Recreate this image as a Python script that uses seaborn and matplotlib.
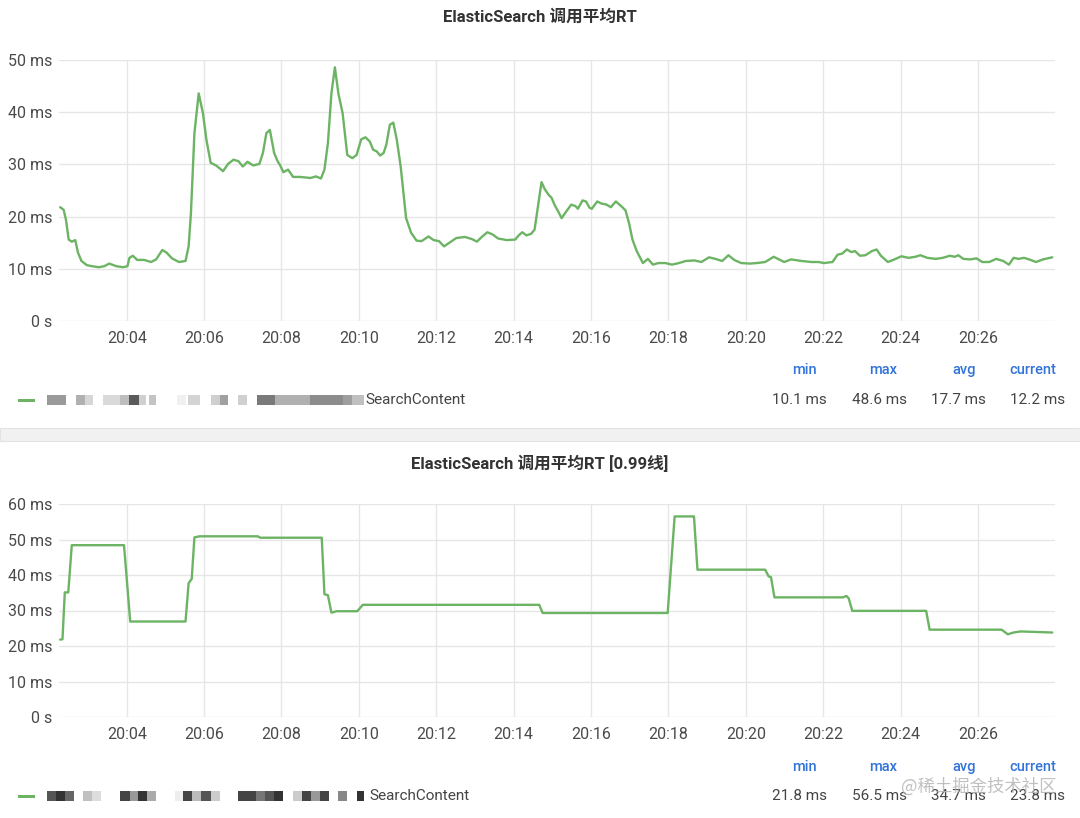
import matplotlib
matplotlib.use("Agg")
import matplotlib.pyplot as plt
from matplotlib.patches import Rectangle
from matplotlib.ticker import FuncFormatter
import seaborn as sns

sns.set_theme(style="white")
plt.rcParams['font.family'] = ['Roboto', 'Noto Sans CJK SC', 'DejaVu Sans']

# minutes after 20:00 -> average RT (ms)
avg_t = [2.28, 2.37, 2.43, 2.50, 2.58, 2.67, 2.74, 2.83, 2.97, 3.10, 3.28, 3.42, 3.55, 3.73, 3.91,
         4.02, 4.07, 4.16, 4.27, 4.45, 4.63, 4.76, 4.92, 5.03, 5.17, 5.35, 5.52, 5.60, 5.66, 5.75,
         5.86, 5.97, 6.06, 6.17, 6.31, 6.49, 6.62, 6.76, 6.89, 7.00, 7.12, 7.27, 7.43, 7.52, 7.61,
         7.70, 7.81, 7.90, 7.96, 8.05, 8.17, 8.30, 8.48, 8.75, 8.89, 9.02, 9.11, 9.20, 9.29, 9.38,
         9.47, 9.58, 9.70, 9.83, 9.94, 10.06, 10.17, 10.28, 10.37, 10.46, 10.55, 10.64, 10.71, 10.80,
         10.89, 10.98, 11.08, 11.22, 11.35, 11.49, 11.62, 11.80, 11.93, 12.07, 12.20, 12.34, 12.52,
         12.74, 12.92, 13.05, 13.19, 13.32, 13.45, 13.60, 13.82, 14.04, 14.13, 14.22, 14.33, 14.45,
         14.54, 14.63, 14.72, 14.80, 14.90, 14.98, 15.06, 15.15, 15.24, 15.36, 15.49, 15.60, 15.66,
         15.78, 15.87, 15.96, 16.02, 16.16, 16.27, 16.40, 16.51, 16.64, 16.78, 16.89, 16.98, 17.07,
         17.18, 17.34, 17.47, 17.60, 17.74, 17.92, 18.09, 18.27, 18.45, 18.67, 18.85, 19.05, 19.21,
         19.39, 19.55, 19.70, 19.88, 20.10, 20.28, 20.50, 20.72, 20.86, 20.99, 21.17, 21.44, 21.70,
         21.88, 22.02, 22.24, 22.37, 22.49, 22.61, 22.73, 22.82, 22.95, 23.09, 23.26, 23.38, 23.49,
         23.67, 23.84, 24.02, 24.20, 24.38, 24.51, 24.69, 24.91, 25.09, 25.27, 25.40, 25.49, 25.62,
         25.80, 25.96, 26.11, 26.29, 26.47, 26.65, 26.80, 26.92, 27.05, 27.19, 27.32, 27.50, 27.68,
         27.92]
avg_v = [21.8, 21.3, 19.4, 15.6, 15.2, 15.5, 13.1, 11.5, 10.7, 10.5, 10.3, 10.5, 11.0, 10.5, 10.3,
         10.5, 12.1, 12.5, 11.7, 11.7, 11.3, 11.8, 13.6, 13.1, 12.0, 11.3, 11.5, 14.3, 20.7, 36.0,
         43.6, 39.8, 34.7, 30.3, 29.8, 28.7, 30.1, 30.9, 30.6, 29.6, 30.5, 29.8, 30.1, 32.2, 36.0,
         36.6, 32.2, 30.6, 29.9, 28.5, 29.0, 27.6, 27.6, 27.4, 27.7, 27.3, 29.0, 34.1, 43.6, 48.6,
         43.6, 39.8, 31.8, 31.2, 31.8, 34.8, 35.2, 34.4, 32.8, 32.5, 31.7, 32.2, 33.8, 37.6,
         38.0, 34.7, 29.6, 19.7, 16.9, 15.4, 15.3, 16.2, 15.5, 15.3, 14.3, 15.0, 15.9,
         16.1, 15.7, 15.2, 16.2, 17.0, 16.6, 15.8, 15.5, 15.6, 16.4, 17.0, 16.4, 16.7,
         17.5, 22.0, 26.6, 25.3, 24.2, 23.6, 22.2, 21.0, 19.7, 21.0, 22.3, 22.0, 21.5,
         23.1, 22.9, 21.7, 21.5, 22.9, 22.5, 22.3, 21.8, 22.9, 22.0, 21.2, 18.8, 15.6,
         13.4, 11.1, 11.9, 10.8, 11.1, 11.1, 10.8, 11.1, 11.5, 11.6, 11.3, 12.2, 11.9,
         11.5, 12.6, 11.7, 11.1, 11.0, 11.1, 11.3, 12.3, 11.8, 11.3, 11.8, 11.5, 11.3,
         11.3, 11.1, 11.3, 12.7, 12.9, 13.7, 13.2, 13.4, 12.5, 12.6, 13.4, 13.7, 12.5,
         11.3, 11.8, 12.4, 12.1, 12.3, 12.6, 12.1, 11.9, 12.1, 12.5, 12.3, 12.6, 11.9,
         11.8, 12.0, 11.3, 11.3, 11.9, 11.5, 10.8, 12.1, 11.9, 12.1, 11.8, 11.3, 11.8,
         12.2]

# minutes after 20:00 -> p99 RT (ms)
p99_t = [2.28, 2.34, 2.40, 2.49, 2.58, 3.93, 4.09, 5.52, 5.60, 5.68, 5.75, 5.88, 7.39, 7.45,
         9.04, 9.11, 9.20, 9.29, 9.43, 9.96, 10.10, 14.66, 14.75, 17.98, 18.16, 18.66, 18.75,
         20.50, 20.59, 20.65, 20.74, 22.51, 22.60, 22.66, 22.75, 24.66, 24.75, 26.61, 26.77,
         26.92, 27.10, 27.92]
p99_v = [21.8, 21.9, 35.1, 35.1, 48.4, 48.4, 26.9, 26.9, 37.7, 38.9, 50.6, 50.9, 50.9, 50.5,
         50.5, 34.6, 34.3, 29.4, 29.8, 29.8, 31.6, 31.6, 29.3, 29.3, 56.5, 56.5, 41.5,
         41.5, 39.6, 39.4, 33.7, 33.7, 34.1, 33.4, 29.9, 29.9, 24.6, 24.6, 23.3,
         23.8, 24.1, 23.8]

titles = ["ElasticSearch 调用平均RT", "ElasticSearch 调用平均RT [0.99线]"]
stat_names = ["min", "max", "avg", "current"]
avg_stats = ["10.1 ms", "48.6 ms", "17.7 ms", "12.2 ms"]
p99_stats = ["21.8 ms", "56.5 ms", "34.7 ms", "23.8 ms"]
series_name = "SearchContent"
watermark = "@稀土掘金技术社区"

# pixelated (masked) part of the series name: (x0, x1, grey)
mask_top = [(47, 66, '#9a9a9a'), (76, 85, '#b0b0b0'), (85, 93, '#d6d6d6'), (103, 120, '#d9d9d9'),
            (120, 129, '#bdbdbd'), (129, 139, '#5a5a5a'), (139, 146, '#d0d0d0'), (149, 156, '#c4c4c4'),
            (177, 186, '#f0f0f0'), (188, 200, '#d4d4d4'), (211, 220, '#cfcfcf'), (220, 228, '#a0a0a0'),
            (238, 247, '#d0d0d0'), (257, 275, '#7a7a7a'), (275, 310, '#b0b0b0'), (310, 343, '#8c8c8c'),
            (343, 352, '#9e9e9e'), (352, 364, '#c0c0c0')]
mask_bot = [(47, 56, '#555555'), (56, 65, '#333333'), (65, 74, '#666666'), (83, 92, '#c0c0c0'),
            (92, 101, '#dddddd'), (120, 130, '#444444'), (130, 138, '#999999'), (138, 147, '#333333'),
            (147, 156, '#aaaaaa'), (175, 183, '#eeeeee'), (183, 192, '#444444'), (192, 201, '#bbbbbb'),
            (201, 211, '#555555'), (211, 220, '#cccccc'), (238, 256, '#444444'), (256, 265, '#777777'),
            (265, 274, '#555555'), (274, 283, '#333333'), (293, 302, '#cccccc'), (302, 311, '#444444'),
            (311, 320, '#999999'), (320, 329, '#444444'), (338, 347, '#888888'), (357, 364, '#333333')]

GREEN = '#6cb464'
W, H = 1080, 818

fig = plt.figure(figsize=(10.8, 8.18), dpi=100)
fig.patch.set_facecolor('white')


def px(x, y):
    return x / W, 1 - y / H


def style_axis(ax, ymax):
    ax.set_xlim(2.25, 27.99)
    ax.set_ylim(0, ymax)
    ax.set_xticks(range(4, 27, 2))
    ax.set_yticks(range(0, ymax + 1, 10))
    ax.xaxis.set_major_formatter(FuncFormatter(lambda v, p: "20:%02d" % int(round(v))))
    ax.yaxis.set_major_formatter(FuncFormatter(lambda v, p: "0 s" if v == 0 else "%d ms" % v))
    ax.grid(True, color='#e6e6e6', lw=1)
    ax.set_axisbelow(True)
    for s in ax.spines.values():
        s.set_visible(False)
    ax.tick_params(axis='both', length=0, labelsize=11.5, colors='#4a4a4a')
    ax.tick_params(axis='x', pad=7)
    ax.tick_params(axis='y', pad=5)
    ax.set_xlabel('')
    ax.set_ylabel('')


def legend_row(y_head, y_val, stats, mask, name_x):
    head_right = [817, 897, 976, 1056]
    val_right = [827, 907, 986, 1065]
    for n, s, hr, vr in zip(stat_names, stats, head_right, val_right):
        fig.text(*px(hr, y_head), n, ha='right', va='center', fontsize=10.5,
                 color='#3274d9', fontweight='medium')
        fig.text(*px(vr, y_val), s, ha='right', va='center', fontsize=11, color='#444444')
    fig.add_artist(Rectangle(px(18, y_val + 1.5), 17 / W, 3 / H, transform=fig.transFigure,
                             color=GREEN, lw=0))
    for x0, x1, c in mask:
        fig.add_artist(Rectangle(px(x0, y_val + 4.5), (x1 - x0) / W, 9.5 / H,
                                 transform=fig.transFigure, color=c, lw=0))
    fig.text(*px(name_x, y_val), series_name, ha='left', va='center', fontsize=11, color='#444444')


ax1 = fig.add_axes([59 / W, 1 - 321 / H, (1055 - 59) / W, (321 - 60) / H])
sns.lineplot(x=avg_t, y=avg_v, ax=ax1, color=GREEN, linewidth=1.7, estimator=None)
style_axis(ax1, 50)

ax2 = fig.add_axes([59 / W, 1 - 717 / H, (1055 - 59) / W, (717 - 504) / H])
sns.lineplot(x=p99_t, y=p99_v, ax=ax2, color=GREEN, linewidth=1.7, estimator=None)
style_axis(ax2, 60)

fig.text(*px(540, 17), titles[0], ha='center', va='center', fontsize=12,
         fontweight='bold', color='#333333')
fig.text(*px(540, 463), titles[1], ha='center', va='center', fontsize=12,
         fontweight='bold', color='#333333')

legend_row(370, 400, avg_stats, mask_top, 365)
legend_row(767, 796, p99_stats, mask_bot, 369)

# panel separator
fig.add_artist(Rectangle(px(0, 441), 1, 13 / H, transform=fig.transFigure,
                         facecolor='#f1f1f1', edgecolor='#e2e2e2', lw=0.8))

fig.text(*px(1057, 787), watermark, ha='right', va='center', fontsize=12.5,
         color='#b5b5b5', alpha=0.85, family=['Noto Sans CJK SC', 'DejaVu Sans'])

fig.savefig("out.png", dpi=100)
